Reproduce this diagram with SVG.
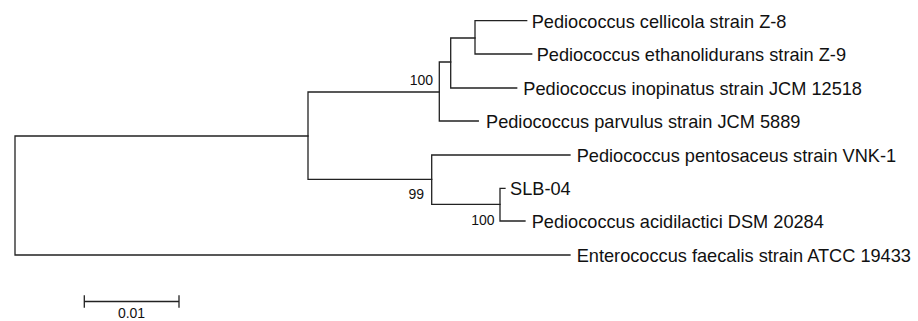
<svg xmlns="http://www.w3.org/2000/svg" width="918" height="321" viewBox="0 0 918 321">
  <style>
    .br { fill: none; stroke: #222; stroke-width: 1.3; stroke-linecap: square; }
    .leaf { font-family: "Liberation Sans", Arial, sans-serif; font-size: 18.2px; fill: #111; }
    .boot { font-family: "Liberation Sans", Arial, sans-serif; font-size: 14px; fill: #111; text-anchor: end; }
    .scale { font-family: "Liberation Sans", Arial, sans-serif; font-size: 14px; fill: #111; text-anchor: middle; }
  </style>
  <rect width="918" height="321" fill="#fff"/>

  <!-- tree branches -->
  <g id="connectors">
    <!-- root -->
    <path class="br" d="M308,136 H15 V255 H570"/>
    <!-- main Pediococcus split -->
    <path class="br" d="M439.3,92 H308 V179.3 H431.7"/>
    <!-- cellicola / ethanolidurans / inopinatus / parvulus clade -->
    <path class="br" d="M478.3,121 H439.3 V62 H450.7"/>
    <path class="br" d="M516.7,88 H450.7 V38 H475"/>
    <path class="br" d="M526.7,20.7 H475 V54 H531.7"/>
    <!-- pentosaceus / acidilactici clade -->
    <path class="br" d="M570,155 H431.7 V204.3 H500"/>
    <path class="br" d="M505,188.3 H500 V221 H525"/>
  </g>

  <!-- bootstrap values -->
  <g id="bootstrap">
    <text class="boot" x="433" y="85">100</text>
    <text class="boot" x="424" y="198.5">99</text>
    <text class="boot" x="494.5" y="225">100</text>
  </g>

  <!-- taxa -->
  <g id="leaf-cellicola"><text class="leaf" x="531.7" y="27.6">Pediococcus cellicola strain Z-8</text></g>
  <g id="leaf-ethanolidurans"><text class="leaf" x="536.7" y="60.9">Pediococcus ethanolidurans strain Z-9</text></g>
  <g id="leaf-inopinatus"><text class="leaf" x="523.3" y="94.9">Pediococcus inopinatus strain JCM 12518</text></g>
  <g id="leaf-parvulus"><text class="leaf" x="486" y="127.9">Pediococcus parvulus strain JCM 5889</text></g>
  <g id="leaf-pentosaceus"><text class="leaf" x="576.7" y="161.9">Pediococcus pentosaceus strain VNK-1</text></g>
  <g id="leaf-slb04"><text class="leaf" x="510" y="195.2">SLB-04</text></g>
  <g id="leaf-acidilactici"><text class="leaf" x="531.7" y="227.9">Pediococcus acidilactici DSM 20284</text></g>
  <g id="leaf-enterococcus"><text class="leaf" x="576.7" y="261.9">Enterococcus faecalis strain ATCC 19433</text></g>

  <!-- scale bar -->
  <g id="scale-bar">
    <path class="br" d="M84.3,301.5 H179 M84.3,296 V307 M179,296 V307"/>
    <text class="scale" x="131.5" y="317.5">0.01</text>
  </g>
</svg>
